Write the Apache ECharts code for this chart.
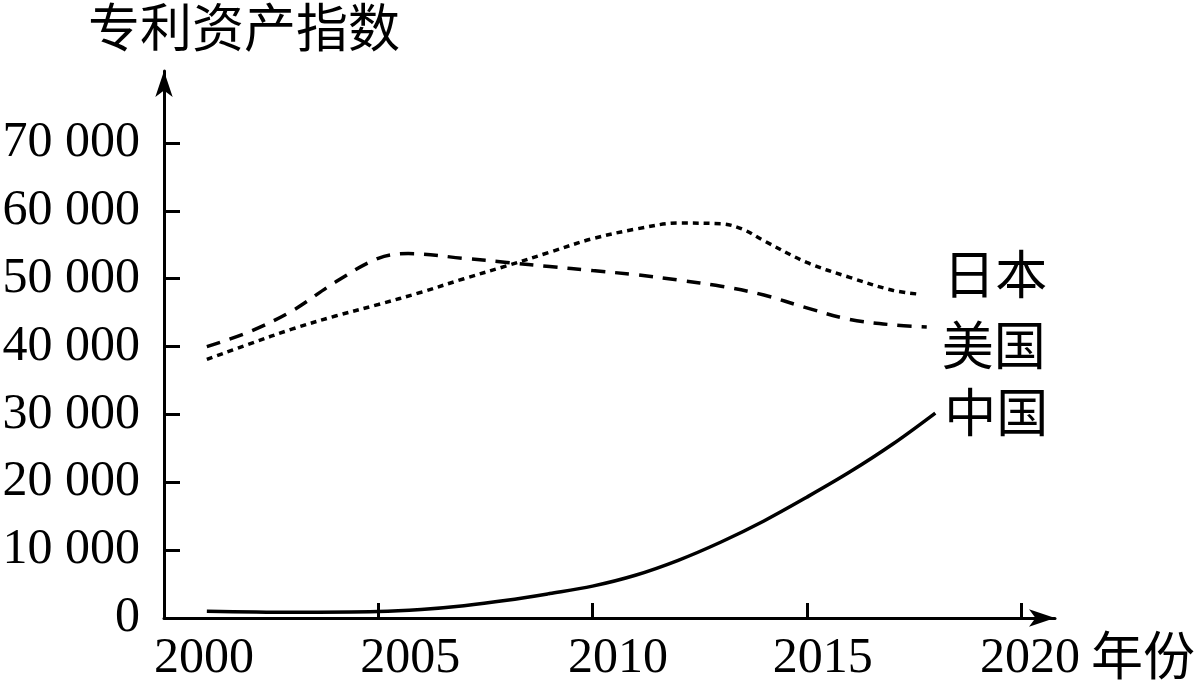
<!DOCTYPE html>
<html>
<head>
<meta charset="utf-8">
<script src="https://cdn.jsdelivr.net/npm/echarts@6.0.0/dist/echarts.min.js"></script>
<style>
  html, body { margin: 0; padding: 0; background: #fff; }
  #chart { width: 1200px; height: 680px; }
</style>
</head>
<body>
<div id="chart"></div>
<script>
// ---- data ----
const chinaYears = [2001, 2003, 2005, 2006, 2007, 2008, 2009, 2010, 2011, 2012, 2013, 2014, 2015, 2016, 2017, 2018];
const chinaValues = [1000, 850, 950, 1250, 1800, 2600, 3600, 4700, 6300, 8500, 11200, 14300, 17800, 21500, 25600, 30200];

const japanYears = [2001, 2002, 2003, 2004, 2005, 2006, 2007, 2008, 2009, 2010, 2011, 2012, 2013, 2013.5, 2014, 2015, 2016, 2017, 2017.65];
const japanValues = [38100, 40400, 42600, 44500, 46200, 48000, 50000, 51900, 53900, 55900, 57300, 58200, 58100, 57300, 55600, 52400, 50200, 48300, 47700];

const usaYears = [2001, 2002, 2003, 2004, 2005, 2005.7, 2007, 2008, 2009, 2010, 2011, 2012, 2013, 2014, 2015, 2016, 2017, 2017.8];
const usaValues = [40000, 42200, 45300, 49500, 53000, 53700, 53000, 52400, 51800, 51200, 50600, 49800, 48900, 47600, 45700, 44000, 43200, 42900];

const xLabelValues = [2000, 2005, 2010, 2015, 2020];
const xTickValues = [2005, 2010, 2015, 2020];
const yLabelValues = [0, 10000, 20000, 30000, 40000, 50000, 60000, 70000];
const yTickValues = [10000, 20000, 30000, 40000, 50000, 60000, 70000];

const seriesNames = ['中国', '日本', '美国'];
const yAxisName = '专利资产指数';
const xAxisName = '年份';

function pairs(xs, ys) { return xs.map((x, i) => [x, ys[i]]); }

const serifFont = '"Liberation Serif", "Noto Sans CJK SC", serif';
const cjkFont = '"Noto Sans CJK SC", "Liberation Serif", sans-serif';

const xShift = { 2000: 80, 2005: 64, 2010: 51, 2015: 32, 2020: 18 };
const xRich = {};
xLabelValues.forEach(v => {
  xRich['y' + v] = { fontSize: 50, fontFamily: serifFont, color: '#000', padding: [0, 0, 0, xShift[v]] };
});

const chart = echarts.init(document.getElementById('chart'), null, { renderer: 'canvas' });

const SMOOTH = 0.35;

const option = {
  backgroundColor: '#fff',
  animation: false,
  grid: { left: 164, right: 145, top: 71, bottom: 62, containLabel: false, outerBoundsMode: 'none' },
  xAxis: {
    type: 'value',
    min: 2000,
    max: 2020.793,
    name: xAxisName,
    nameLocation: 'end',
    nameGap: 36,
    nameTextStyle: { fontSize: 52, fontFamily: cjkFont, color: '#000', verticalAlign: 'top', lineHeight: 74 },
    axisLine: { show: true, symbol: ['none', 'arrow'], symbolSize: [13, 26], lineStyle: { color: '#000', width: 3 } },
    axisTick: { show: true, inside: true, length: 15, customValues: xTickValues, lineStyle: { color: '#000', width: 3 } },
    axisLabel: {
      show: true,
      customValues: xLabelValues,
      margin: 16,
      fontSize: 50,
      fontFamily: serifFont,
      color: '#000',
      formatter: v => '{y' + v + '|' + v + '}',
      rich: xRich
    },
    splitLine: { show: false }
  },
  yAxis: {
    type: 'value',
    min: 0,
    max: 80610,
    name: yAxisName,
    nameLocation: 'end',
    nameGap: 18,
    nameTextStyle: { fontSize: 52, fontFamily: cjkFont, color: '#000', padding: [0, 0, 0, 160] },
    axisLine: { show: true, symbol: ['none', 'arrow'], symbolSize: [13, 26], lineStyle: { color: '#000', width: 3 } },
    axisTick: { show: true, inside: true, length: 16, customValues: yTickValues, lineStyle: { color: '#000', width: 3 } },
    axisLabel: {
      show: true,
      customValues: yLabelValues,
      margin: 24,
      fontSize: 50,
      fontFamily: serifFont,
      color: '#000',
      padding: [0, 0, 12, 0],
      formatter: v => v === 0 ? '0' : (v / 1000) + ' 000'
    },
    splitLine: { show: false }
  },
  series: [
    {
      name: seriesNames[0],
      type: 'line',
      data: pairs(chinaYears, chinaValues),
      smooth: SMOOTH,
      showSymbol: false,
      lineStyle: { color: '#000', width: 3.5, type: 'solid' },
      endLabel: { show: true, formatter: '{a}', fontSize: 52, fontFamily: cjkFont, color: '#000', offset: [1, -1] }
    },
    {
      name: seriesNames[1],
      type: 'line',
      data: pairs(japanYears, japanValues),
      smooth: SMOOTH,
      showSymbol: false,
      lineStyle: { color: '#000', width: 3.5, type: [6, 5] },
      endLabel: { show: true, formatter: '{a}', fontSize: 52, fontFamily: cjkFont, color: '#000', offset: [15, -20] }
    },
    {
      name: seriesNames[2],
      type: 'line',
      data: pairs(usaYears, usaValues),
      smooth: SMOOTH,
      showSymbol: false,
      lineStyle: { color: '#000', width: 3.5, type: [14, 10] },
      endLabel: { show: true, formatter: '{a}', fontSize: 52, fontFamily: cjkFont, color: '#000', offset: [7, 18] }
    }
  ]
};

chart.setOption(option);
</script>
</body>
</html>
